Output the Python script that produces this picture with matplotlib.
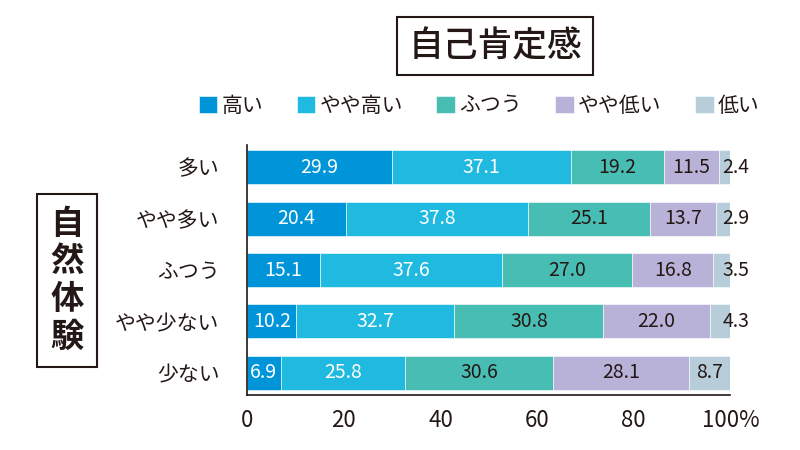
import matplotlib
matplotlib.use("Agg")
import matplotlib.pyplot as plt
import numpy as np

plt.rcParams["font.family"] = ["Noto Sans CJK JP", "DejaVu Sans"]

# data
categories = ["多い", "やや多い", "ふつう", "やや少ない", "少ない"]
series_names = ["高い", "やや高い", "ふつう", "やや低い", "低い"]
high = [29.9, 20.4, 15.1, 10.2, 6.9]
fairly_high = [37.1, 37.8, 37.6, 32.7, 25.8]
normal = [19.2, 25.1, 27.0, 30.8, 30.6]
fairly_low = [11.5, 13.7, 16.8, 22.0, 28.1]
low = [2.4, 2.9, 3.5, 4.3, 8.7]
x_ticks = [0, 20, 40, 60, 80, 100]
x_tick_labels = ["0", "20", "40", "60", "80", "100%"]

colors = ["#0095d9", "#20b9e0", "#48bdb3", "#b9b2d8", "#b7cdd9"]
text_colors = ["white", "white", "#231815", "#231815", "#231815"]
dark = "#231815"

series = [high, fairly_high, normal, fairly_low, low]

fig = plt.figure(figsize=(8, 4.5), dpi=100)
ax = fig.add_axes([0.309, 0.122, 0.604, 0.556])

y = np.arange(len(categories))
left = np.zeros(len(categories))

for i, values in enumerate(series):
    values = np.asarray(values)
    ax.barh(
        y,
        values,
        left=left,
        height=0.66,
        color=colors[i],
        edgecolor="white",
        linewidth=0.4,
        label=series_names[i],
    )
    for j, v in enumerate(values):
        # narrow last segment: label sits past the bar end
        if i == len(series) - 1 and v < 5:
            ax.text(98.4, y[j], f"{v:.1f}", ha="left", va="center",
                    fontsize=14, color=dark)
        else:
            ax.text(left[j] + v / 2, y[j], f"{v:.1f}", ha="center",
                    va="center", fontsize=14, color=text_colors[i])
    left = left + values

ax.set_xlim(0, 100)
ax.set_ylim(len(categories) - 0.57, -0.43)
ax.set_yticks(y)
ax.set_yticklabels(categories, fontsize=15, color=dark)
ax.set_xticks(x_ticks)
ax.set_xticklabels(x_tick_labels, fontsize=16, color=dark)
ax.tick_params(axis="both", length=0)
ax.tick_params(axis="y", pad=20)
ax.tick_params(axis="x", pad=10)

ax.spines["top"].set_visible(False)
ax.spines["right"].set_visible(False)
for s in ("left", "bottom"):
    ax.spines[s].set_color(dark)
    ax.spines[s].set_linewidth(1.2)

ax.legend(
    loc="lower center",
    bbox_to_anchor=(0.48, 1.08),
    ncol=5,
    frameon=False,
    fontsize=15,
    handlelength=0.9,
    handleheight=0.9,
    handletextpad=0.2,
    columnspacing=1.6,
    borderaxespad=0,
    labelcolor=dark,
)

fig.text(
    0.619, 0.898, "自己肯定感",
    ha="center", va="center", fontsize=25, color=dark, fontweight="medium",
    bbox=dict(boxstyle="square,pad=0.32", facecolor="white",
              edgecolor=dark, linewidth=1.5),
)

fig.text(
    0.084, 0.376, "自\n然\n体\n験",
    ha="center", va="center", fontsize=24, color=dark, fontweight="bold",
    linespacing=1.18,
    bbox=dict(boxstyle="square,pad=0.4", facecolor="white",
              edgecolor=dark, linewidth=1.5),
)

fig.savefig("out.png", dpi=100)
